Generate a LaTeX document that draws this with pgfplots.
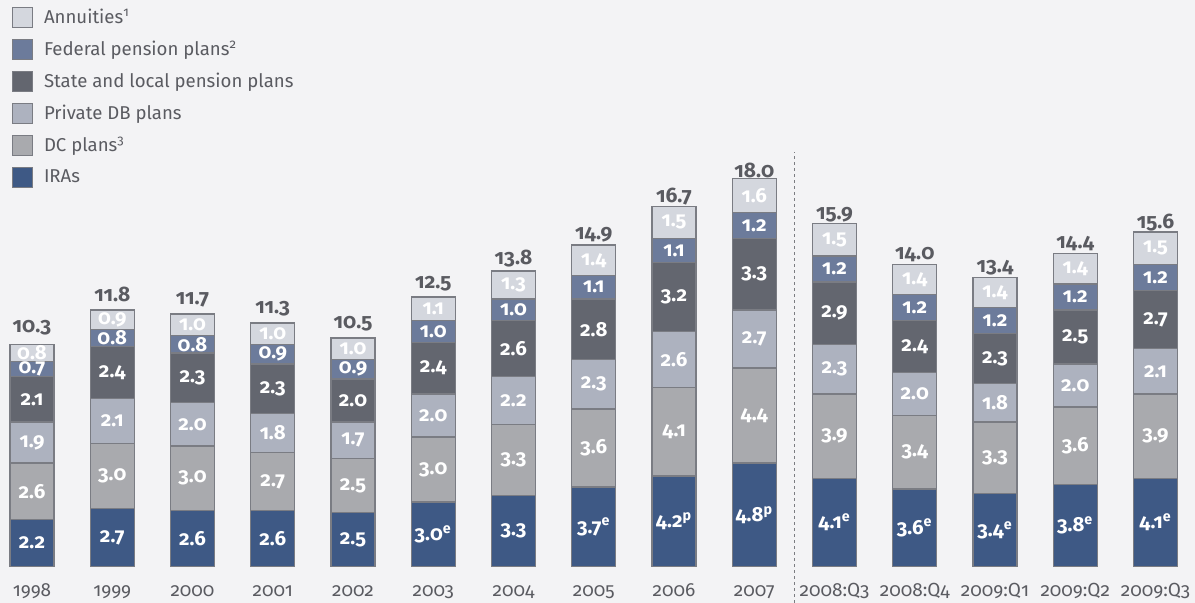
\documentclass[border=0pt]{standalone}
\usepackage{fontspec}
\setmainfont{Fira Sans}[Numbers=OldStyle]
\usepackage{pgfplots}
\usepackage{pgfplotstable}
\pgfplotsset{compat=1.18}
\definecolor{bg}{HTML}{F3F3F5}
\definecolor{cann}{HTML}{D4D7DE}
\definecolor{cfed}{HTML}{6C7B9B}
\definecolor{csl}{HTML}{63666F}
\definecolor{cpdb}{HTML}{ADB2BF}
\definecolor{cdc}{HTML}{A9AAAE}
\definecolor{cira}{HTML}{3E5985}
\definecolor{edgec}{HTML}{7A7C83}
\definecolor{textc}{HTML}{5A5B61}

\pgfplotstableread{
x ira dc pdb sl fed ann tot iral
0 2.2 2.6 1.9 2.1 0.7 0.8 10.3 2.2
1 2.7 3.0 2.1 2.4 0.8 0.9 11.8 2.7
2 2.6 3.0 2.0 2.3 0.8 1.0 11.7 2.6
3 2.6 2.7 1.8 2.3 0.9 1.0 11.3 2.6
4 2.5 2.5 1.7 2.0 0.9 1.0 10.5 2.5
5 3.0 3.0 2.0 2.4 1.0 1.1 12.5 3.0\unexpanded{\textsuperscript{e}}
6 3.3 3.3 2.2 2.6 1.0 1.3 13.8 3.3
7 3.7 3.6 2.3 2.8 1.1 1.4 14.9 3.7\unexpanded{\textsuperscript{e}}
8 4.2 4.1 2.6 3.2 1.1 1.5 16.7 4.2\unexpanded{\textsuperscript{p}}
9 4.8 4.4 2.7 3.3 1.2 1.6 18.0 4.8\unexpanded{\textsuperscript{p}}
10 4.1 3.9 2.3 2.9 1.2 1.5 15.9 4.1\unexpanded{\textsuperscript{e}}
11 3.6 3.4 2.0 2.4 1.2 1.4 14.0 3.6\unexpanded{\textsuperscript{e}}
12 3.4 3.3 1.8 2.3 1.2 1.4 13.4 3.4\unexpanded{\textsuperscript{e}}
13 3.8 3.6 2.0 2.5 1.2 1.4 14.4 3.8\unexpanded{\textsuperscript{e}}
14 4.1 3.9 2.1 2.7 1.2 1.5 15.6 4.1\unexpanded{\textsuperscript{e}}
}\datatable

\pgfplotsset{
  base/.style={scale only axis, width=597.5pt, height=283.15pt,
    xmin=-0.3988, xmax=14.492, ymin=0, ymax=26.24,
    at={(0pt,18.15pt)}, anchor=south west, clip=false},
  lab/.style={draw=none, mark=none, nodes near coords, point meta=explicit symbolic,
    nodes near coords style={anchor=center, text=white, inner sep=0pt,
      font=\bfseries\fontsize{10.2}{12}\selectfont}},
}

\begin{document}
\begin{tikzpicture}
\fill[bg] (0,0) rectangle (597.5pt,301.5pt);
\useasboundingbox (0,0) rectangle (597.5pt,301.5pt);
\begin{axis}[base,
  ybar stacked, bar width=22pt,
  axis line style={draw=none},
  major tick length=0pt,
  ytick=\empty,
  xtick={0,...,14},
  xticklabels={1998,1999,2000,2001,2002,2003,2004,2005,2006,2007,2008:Q3,2008:Q4,2009:Q1,2009:Q2,2009:Q3},
  xticklabel style={anchor=base, yshift=-14.9pt, text=textc, font=\fontsize{9.5}{11}\selectfont},
  every axis plot/.append style={draw=edgec, line width=0.7pt},
  reverse legend,
  legend cell align=left,
  legend image code/.code={\draw[#1, line width=0.6pt] (0pt,-5pt) rectangle (10pt,5pt);},
  legend style={at={(axis description cs:0,1)}, anchor=north west, xshift=5.7pt, yshift=-0.5pt,
    draw=none, fill=none, inner sep=0pt, row sep=0pt,
    font=\fontsize{9.3}{11}\selectfont, text=textc,
    nodes={minimum height=16pt, inner sep=0pt},
    /tikz/every odd column/.append style={column sep=5.5pt}},
]
\addplot[fill=cira] table[x=x, y=ira]{\datatable};
\addlegendentry{IRAs}
\addplot[fill=cdc] table[x=x, y=dc]{\datatable};
\addlegendentry{DC plans\textsuperscript{3}}
\addplot[fill=cpdb] table[x=x, y=pdb]{\datatable};
\addlegendentry{Private DB plans}
\addplot[fill=csl] table[x=x, y=sl]{\datatable};
\addlegendentry{State and local pension plans}
\addplot[fill=cfed] table[x=x, y=fed]{\datatable};
\addlegendentry{Federal pension plans\textsuperscript{2}}
\addplot[fill=cann, nodes near coords, point meta=explicit symbolic,
  nodes near coords style={anchor=south, inner sep=0pt, yshift=8.5pt, text=textc,
    font=\bfseries\fontsize{10.5}{12}\selectfont}]
  table[x=x, y=ann, meta=tot]{\datatable};
\addlegendentry{Annuities\textsuperscript{1}}
\end{axis}
\begin{axis}[base, hide axis]
\addplot[lab] table[x=x, y expr=\thisrow{ira}/2, meta=iral]{\datatable};
\addplot[lab] table[x=x, y expr=\thisrow{ira}+\thisrow{dc}/2, meta=dc]{\datatable};
\addplot[lab] table[x=x, y expr=\thisrow{ira}+\thisrow{dc}+\thisrow{pdb}/2, meta=pdb]{\datatable};
\addplot[lab] table[x=x, y expr=\thisrow{ira}+\thisrow{dc}+\thisrow{pdb}+\thisrow{sl}/2, meta=sl]{\datatable};
\addplot[lab] table[x=x, y expr=\thisrow{ira}+\thisrow{dc}+\thisrow{pdb}+\thisrow{sl}+\thisrow{fed}/2, meta=fed]{\datatable};
\addplot[lab] table[x=x, y expr=\thisrow{ira}+\thisrow{dc}+\thisrow{pdb}+\thisrow{sl}+\thisrow{fed}+\thisrow{ann}/2, meta=ann]{\datatable};
\addplot[draw=textc!80, dash pattern=on 1.5pt off 1.5pt, line width=0.6pt] coordinates {(9.5,-1.68) (9.5,19.2)};
\end{axis}
\end{tikzpicture}
\end{document}
